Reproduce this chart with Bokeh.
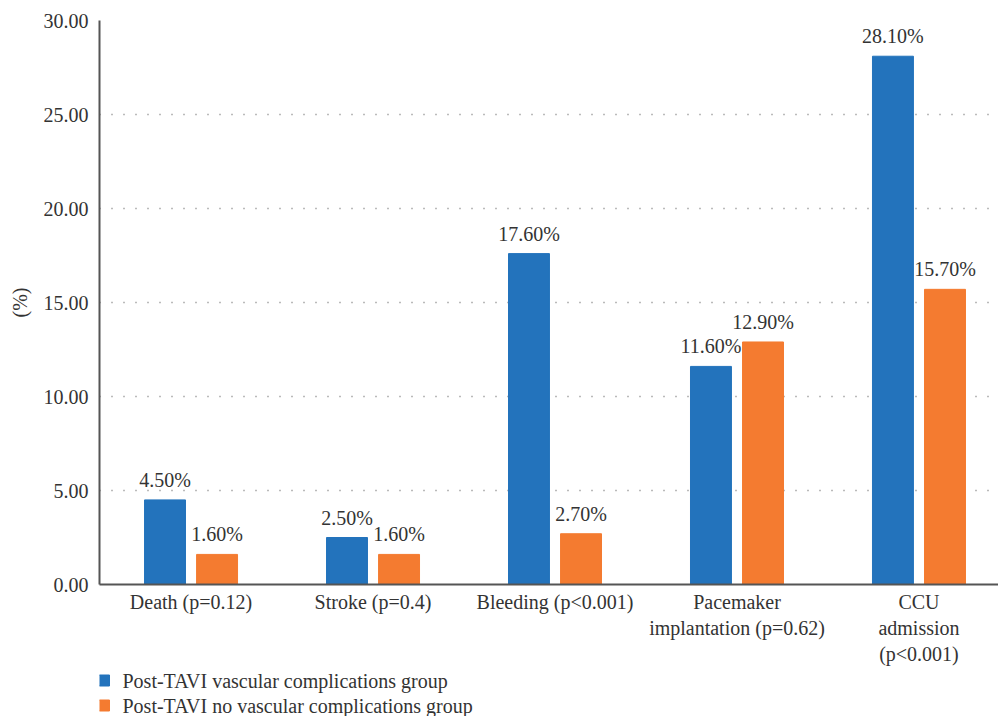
from bokeh.plotting import figure
from bokeh.models import (ColumnDataSource, FixedTicker, NumeralTickFormatter, Range1d,
                          LabelSet)
from bokeh.core.properties import value
from bokeh.layouts import column
from bokeh.embed import file_html
from bokeh.resources import INLINE

categories = ["Death (p=0.12)", "Stroke (p=0.4)", "Bleeding (p<0.001)",
              "Pacemaker\nimplantation (p=0.62)", "CCU\nadmission\n(p<0.001)"]
vascular = [4.5, 2.5, 17.6, 11.6, 28.1]
no_vascular = [1.6, 1.6, 2.7, 12.9, 15.7]
series_names = ["Post-TAVI vascular complications group",
                "Post-TAVI no vascular complications group"]
y_ticks = [0, 5, 10, 15, 20, 25, 30]

FONT = "Liberation Serif"
FS = "20px"
BLUE = "#2373bc"
ORANGE = "#f47b30"
TXT = "#333333"

idx = list(range(len(categories)))
off = 0.143
bw = 0.225

src1 = ColumnDataSource(dict(x=[i - off for i in idx], top=vascular,
                             lab=[f"{v:.2f}%" for v in vascular]))
src2 = ColumnDataSource(dict(x=[i + off for i in idx], top=no_vascular,
                             lab=[f"{v:.2f}%" for v in no_vascular]))

W = 998
LEFT = 99
H_MAIN = 668
H_LEG = 48
p = figure(width=W, height=H_MAIN, output_backend="svg", toolbar_location=None,
           x_range=Range1d(-0.503, 4.437), y_range=Range1d(0, 30),
           min_border_left=LEFT, min_border_right=0, min_border_top=20,
           min_border_bottom=H_MAIN - 586)
p.outline_line_color = None

r1 = p.vbar(x="x", top="top", width=bw, source=src1, color=BLUE)
r2 = p.vbar(x="x", top="top", width=bw, source=src2, color=ORANGE)

for s in (src1, src2):
    p.add_layout(LabelSet(x="x", y="top", text="lab", source=s, y_offset=13,
                          text_align="center", text_baseline="alphabetic",
                          text_font=FONT, text_font_size=FS, text_color=TXT))

p.xgrid.grid_line_color = None
p.ygrid.ticker = FixedTicker(ticks=y_ticks[1:])
p.ygrid.grid_line_color = "#777777"
p.ygrid.grid_line_dash = "1 11"
p.ygrid.grid_line_width = 1.5

p.yaxis.ticker = FixedTicker(ticks=y_ticks)
p.yaxis.formatter = NumeralTickFormatter(format="0.00")
p.yaxis.axis_label = "(%)"
p.xaxis.ticker = FixedTicker(ticks=idx)
p.xaxis.major_label_overrides = {i: c for i, c in zip(idx, categories)}

for ax in (p.xaxis, p.yaxis):
    ax.axis_line_color = "#555555"
    ax.axis_line_width = 2
    ax.major_tick_line_color = None
    ax.minor_tick_line_color = None
    ax.major_label_text_font = FONT
    ax.major_label_text_font_size = FS
    ax.major_label_text_color = TXT
    ax.axis_label_text_font = FONT
    ax.axis_label_text_font_size = FS
    ax.axis_label_text_font_style = "normal"
    ax.axis_label_text_color = TXT
p.xaxis.major_label_standoff = 0
p.yaxis.major_label_standoff = 5
p.yaxis.axis_label_standoff = 10

# legend strip below the chart (frame aligned with the main frame; y downward)
lg = figure(width=W, height=H_LEG, output_backend="svg", toolbar_location=None,
            x_range=Range1d(LEFT, W), y_range=Range1d(H_LEG, 0),
            min_border=0, x_axis_location=None, y_axis_location=None)
lg.outline_line_color = None
lg.xgrid.visible = False
lg.ygrid.visible = False
leg_src = ColumnDataSource(dict(x=[103.5, 103.5], y=[12, 37], tx=[122, 122],
                                name=series_names, color=[BLUE, ORANGE]))
lg.scatter(x="x", y="y", marker="square", size=11, color="color", source=leg_src)
lg.text(x="tx", y="y", text="name", source=leg_src, text_align="left",
        text_baseline="middle", text_font=value(FONT), text_font_size=FS,
        text_color=TXT)

open("out.html", "w").write(file_html(column(p, lg), INLINE))
